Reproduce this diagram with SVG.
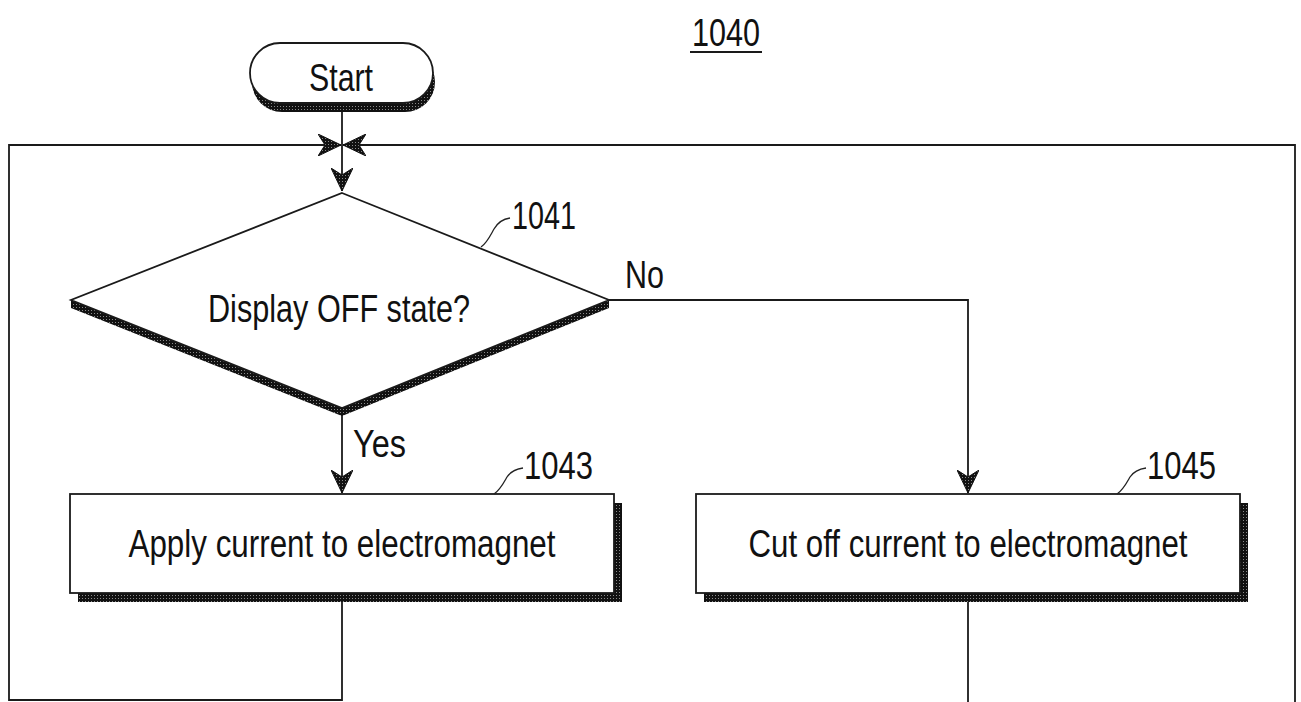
<svg xmlns="http://www.w3.org/2000/svg" width="1301" height="702" viewBox="0 0 1301 702">
<defs>
<pattern id="dots" width="3" height="3" patternUnits="userSpaceOnUse">
<rect width="3" height="3" fill="#111"/>
<rect x="1" y="1" width="1" height="1" fill="#8a8a8a"/>
</pattern>
<marker id="arr" markerUnits="userSpaceOnUse" markerWidth="24" markerHeight="22" refX="23" refY="11" orient="auto" viewBox="0 0 24 22">
<path d="M0,0 L23,11 L0,22 L7,11 Z" fill="url(#dots)" stroke="#111" stroke-width="1"/>
</marker>
</defs>
<style>
.ln{fill:none;stroke:#1a1a1a;stroke-width:1.8}
.shape{fill:#fff;stroke:#1a1a1a;stroke-width:1.8}
.shadow{fill:url(#dots);stroke:none}
.t{font-family:"Liberation Sans",Arial,sans-serif;fill:#111;font-size:38px}
.lead{fill:none;stroke:#222;stroke-width:1.3}
</style>
<rect width="1301" height="702" fill="#fff"/>

<g id="title">
<text class="t" x="692" y="46" textLength="68" lengthAdjust="spacingAndGlyphs">1040</text>
<line class="ln" x1="690" y1="52" x2="762" y2="52"/>
</g>

<g id="connectors">
<path class="ln" d="M342,104 L342,191" marker-end="url(#arr)"/>
<path class="ln" d="M342,602 L342,700 L9,700 L9,145 L341,145" marker-end="url(#arr)"/>
<path class="ln" d="M1295,702 L1295,145 L343,145" marker-end="url(#arr)"/>
<path class="ln" d="M342,408 L342,493" marker-end="url(#arr)"/>
<path class="ln" d="M609,300 L968,300 L968,493" marker-end="url(#arr)"/>
<path class="ln" d="M968,602 L968,702"/>
</g>

<g id="start">
<rect class="shadow" x="252" y="52" width="183" height="60" rx="30"/>
<rect class="shape" x="250" y="43" width="183" height="60" rx="30"/>
<text class="t" x="341" y="91" text-anchor="middle" textLength="64" lengthAdjust="spacingAndGlyphs">Start</text>
</g>

<g id="n1041">
<polygon class="shadow" points="71,300 342,408 609,300 609,308 342,416 71,308"/>
<polygon class="shape" points="342,193 609,300 342,408 71,300"/>
<text class="t" x="339" y="322" text-anchor="middle" textLength="262" lengthAdjust="spacingAndGlyphs">Display OFF state?</text>
<path class="lead" d="M481,247 C487,243 490,236 494,229 C498,222 503,219 510,218"/>
<text class="t" x="512" y="229" textLength="64" lengthAdjust="spacingAndGlyphs">1041</text>
<text class="t" x="625" y="288" textLength="39" lengthAdjust="spacingAndGlyphs">No</text>
<text class="t" x="353" y="457" textLength="53" lengthAdjust="spacingAndGlyphs">Yes</text>
</g>

<g id="n1043">
<rect class="shadow" x="78" y="503" width="544" height="99"/>
<rect class="shape" x="70" y="494" width="544" height="99"/>
<text class="t" x="342" y="557" text-anchor="middle" textLength="427" lengthAdjust="spacingAndGlyphs">Apply current to electromagnet</text>
<path class="lead" d="M494,494 C500,490 503,484 507,477 C511,471 516,469 523,468"/>
<text class="t" x="524" y="479" textLength="69" lengthAdjust="spacingAndGlyphs">1043</text>
</g>

<g id="n1045">
<rect class="shadow" x="704" y="503" width="544" height="99"/>
<rect class="shape" x="696" y="494" width="544" height="99"/>
<text class="t" x="968" y="557" text-anchor="middle" textLength="439" lengthAdjust="spacingAndGlyphs">Cut off current to electromagnet</text>
<path class="lead" d="M1117,494 C1123,490 1126,484 1130,477 C1134,471 1139,469 1146,468"/>
<text class="t" x="1147" y="479" textLength="69" lengthAdjust="spacingAndGlyphs">1045</text>
</g>
</svg>
